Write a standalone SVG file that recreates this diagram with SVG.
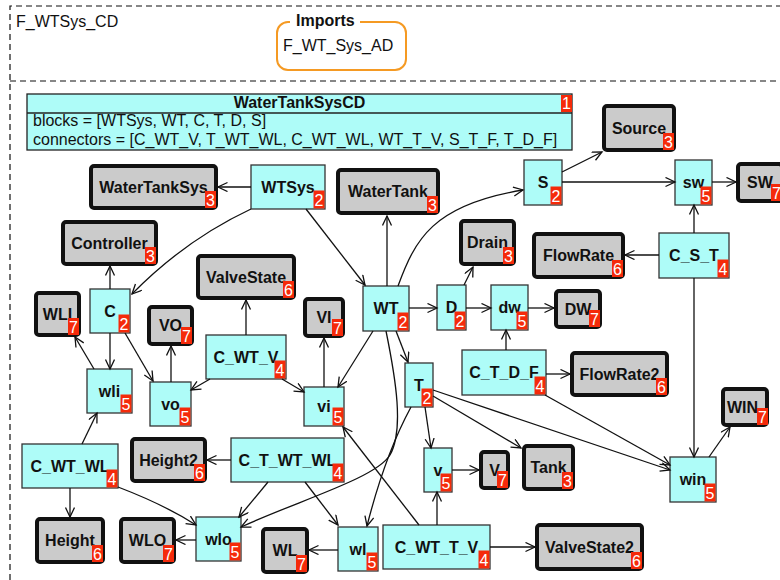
<svg xmlns="http://www.w3.org/2000/svg" width="780" height="580" viewBox="0 0 780 580">
  <defs>
    <marker id="ah" markerWidth="12" markerHeight="12" refX="10" refY="5" orient="auto" markerUnits="userSpaceOnUse">
      <path d="M0.5,0.5 L10,5 L0.5,9.5" fill="none" stroke="#111" stroke-width="1.3"/>
    </marker>
  </defs>
  <style>
    text { font-family: "Liberation Sans", Arial, sans-serif; }
    .frame { fill: none; stroke: #111; stroke-width: 1.2; stroke-dasharray: 6 4; }
    .hdr { font-size: 16px; fill: #111; }
    .imp { fill: #fff; stroke: #f59a23; stroke-width: 2; }
    .bold { font-weight: bold; }
    .cy > rect.box { fill: #aefcf8; stroke: #333; stroke-width: 1.3; }
    .gr > rect.box { fill: #cbcbcb; stroke: #111; stroke-width: 4; }
    .lbl { font-size: 16px; font-weight: bold; fill: #111; text-anchor: middle; }
    .badge { fill: #f52a0a; }
    .num { font-size: 16px; fill: #fff; text-anchor: middle; }
    .edge { fill: none; stroke: #111; stroke-width: 1.3; marker-end: url(#ah); }
    .sys { fill: #aefcf8; stroke: #222; stroke-width: 1.3; }
    .txt { font-size: 16px; fill: #111; }
  </style>

  <!-- package frame and header -->
  <path class="frame" d="M10,580 L10,6 L790,6 M10,81 L790,81"/>
  <text class="hdr" x="16" y="27">F_WTSys_CD</text>

  <g id="imports">
    <rect class="imp" x="277" y="22" width="129" height="48" rx="11"/>
    <rect x="290" y="16" width="70" height="14" fill="#fff"/>
    <text class="hdr bold" x="296" y="26">Imports</text>
    <text class="hdr" x="283" y="51">F_WT_Sys_AD</text>
  </g>

  <!-- system description -->
  <g id="WaterTankSysCD">
    <rect class="sys" x="27" y="94" width="545" height="56"/>
    <line x1="27" y1="113" x2="572" y2="113" stroke="#222" stroke-width="1.3"/>
    <text class="lbl" x="299.5" y="108">WaterTankSysCD</text>
    <rect class="badge" x="561" y="95" width="11" height="17"/>
    <text class="num" x="566.5" y="109">1</text>
    <text class="txt" x="33" y="126">blocks = [WTSys, WT, C, T, D, S]</text>
    <text class="txt" x="33" y="145">connectors = [C_WT_V, T_WT_WL, C_WT_WL, WT_T_V, S_T_F, T_D_F]</text>
  </g>

  <!-- block nodes (cyan) -->
  <g id="n-WTSys" class="cy"><rect class="box" x="251" y="165" width="74" height="44"/><text class="lbl" x="288" y="192.5">WTSys</text><rect class="badge" x="313.5" y="190.5" width="11" height="18"/><text class="num" x="319" y="206">2</text></g>
  <g id="n-C" class="cy"><rect class="box" x="90" y="289" width="40" height="44"/><text class="lbl" x="110" y="316.5">C</text><rect class="badge" x="118.5" y="314.5" width="11" height="18"/><text class="num" x="124" y="330">2</text></g>
  <g id="n-WT" class="cy"><rect class="box" x="363" y="286" width="46" height="45"/><text class="lbl" x="386" y="314">WT</text><rect class="badge" x="397.5" y="312.5" width="11" height="18"/><text class="num" x="403" y="328">2</text></g>
  <g id="n-S" class="cy"><rect class="box" x="524" y="160" width="38" height="45"/><text class="lbl" x="543" y="188">S</text><rect class="badge" x="550.5" y="186.5" width="11" height="18"/><text class="num" x="556" y="202">2</text></g>
  <g id="n-sw" class="cy"><rect class="box" x="675" y="160" width="37" height="45"/><text class="lbl" x="693.5" y="188">sw</text><rect class="badge" x="700.5" y="186.5" width="11" height="18"/><text class="num" x="706" y="202">5</text></g>
  <g id="n-C_S_T" class="cy"><rect class="box" x="659" y="233" width="70" height="45"/><text class="lbl" x="694" y="261">C_S_T</text><rect class="badge" x="717.5" y="259.5" width="11" height="18"/><text class="num" x="723" y="275">4</text></g>
  <g id="n-D" class="cy"><rect class="box" x="437" y="285" width="29" height="45"/><text class="lbl" x="451.5" y="313">D</text><rect class="badge" x="454.5" y="311.5" width="11" height="18"/><text class="num" x="460" y="327">2</text></g>
  <g id="n-dw" class="cy"><rect class="box" x="491" y="285" width="37" height="45"/><text class="lbl" x="509.5" y="313">dw</text><rect class="badge" x="516.5" y="311.5" width="11" height="18"/><text class="num" x="522" y="327">5</text></g>
  <g id="n-C_T_D_F" class="cy"><rect class="box" x="462" y="350" width="84" height="45"/><text class="lbl" x="504" y="378">C_T_D_F</text><rect class="badge" x="534.5" y="376.5" width="11" height="18"/><text class="num" x="540" y="392">4</text></g>
  <g id="n-T" class="cy"><rect class="box" x="405" y="363" width="28" height="44"/><text class="lbl" x="419" y="390.5">T</text><rect class="badge" x="421.5" y="388.5" width="11" height="18"/><text class="num" x="427" y="404">2</text></g>
  <g id="n-v" class="cy"><rect class="box" x="424" y="448" width="28" height="44"/><text class="lbl" x="438" y="475.5">v</text><rect class="badge" x="440.5" y="473.5" width="11" height="18"/><text class="num" x="446" y="489">5</text></g>
  <g id="n-win" class="cy"><rect class="box" x="670" y="457" width="46" height="45"/><text class="lbl" x="693" y="485">win</text><rect class="badge" x="704.5" y="483.5" width="11" height="18"/><text class="num" x="710" y="499">5</text></g>
  <g id="n-C_WT_T_V" class="cy"><rect class="box" x="383" y="525" width="107" height="44"/><text class="lbl" x="436.5" y="552.5">C_WT_T_V</text><rect class="badge" x="478.5" y="550.5" width="11" height="18"/><text class="num" x="484" y="566">4</text></g>
  <g id="n-C_WT_V" class="cy"><rect class="box" x="206" y="335" width="80" height="44"/><text class="lbl" x="246" y="362.5">C_WT_V</text><rect class="badge" x="274.5" y="360.5" width="11" height="18"/><text class="num" x="280" y="376">4</text></g>
  <g id="n-wli" class="cy"><rect class="box" x="87" y="369" width="45" height="44"/><text class="lbl" x="109.5" y="396.5">wli</text><rect class="badge" x="120.5" y="394.5" width="11" height="18"/><text class="num" x="126" y="410">5</text></g>
  <g id="n-vo" class="cy"><rect class="box" x="150" y="382" width="41" height="44"/><text class="lbl" x="170.5" y="409.5">vo</text><rect class="badge" x="179.5" y="407.5" width="11" height="18"/><text class="num" x="185" y="423">5</text></g>
  <g id="n-vi" class="cy"><rect class="box" x="304" y="387" width="40" height="39"/><text class="lbl" x="324" y="412">vi</text><rect class="badge" x="332.5" y="407.5" width="11" height="18"/><text class="num" x="338" y="423">5</text></g>
  <g id="n-C_WT_WL" class="cy"><rect class="box" x="22" y="444" width="96" height="44"/><text class="lbl" x="70" y="471.5">C_WT_WL</text><rect class="badge" x="106.5" y="469.5" width="11" height="18"/><text class="num" x="112" y="485">4</text></g>
  <g id="n-C_T_WT_WL" class="cy"><rect class="box" x="231" y="438" width="113" height="44"/><text class="lbl" x="287.5" y="465.5">C_T_WT_WL</text><rect class="badge" x="332.5" y="463.5" width="11" height="18"/><text class="num" x="338" y="479">4</text></g>
  <g id="n-wlo" class="cy"><rect class="box" x="196" y="517" width="45" height="44"/><text class="lbl" x="218.5" y="544.5">wlo</text><rect class="badge" x="229.5" y="542.5" width="11" height="18"/><text class="num" x="235" y="558">5</text></g>
  <g id="n-wl" class="cy"><rect class="box" x="338" y="527" width="40" height="44"/><text class="lbl" x="358" y="554.5">wl</text><rect class="badge" x="366.5" y="552.5" width="11" height="18"/><text class="num" x="372" y="568">5</text></g>

  <!-- type / value nodes (grey) -->
  <g id="n-WaterTankSys" class="gr"><rect class="box" x="91" y="166" width="125" height="42" rx="3"/><text class="lbl" x="153.5" y="192.5">WaterTankSys</text><rect class="badge" x="205" y="191" width="11" height="17"/><text class="num" x="210.5" y="205.5">3</text></g>
  <g id="n-Controller" class="gr"><rect class="box" x="63" y="222" width="93" height="42" rx="3"/><text class="lbl" x="109.5" y="248.5">Controller</text><rect class="badge" x="145" y="247" width="11" height="17"/><text class="num" x="150.5" y="261.5">3</text></g>
  <g id="n-ValveState" class="gr"><rect class="box" x="198" y="256" width="96" height="42" rx="3"/><text class="lbl" x="246" y="282.5">ValveState</text><rect class="badge" x="283" y="281" width="11" height="17"/><text class="num" x="288.5" y="295.5">6</text></g>
  <g id="n-WLI" class="gr"><rect class="box" x="36" y="293" width="43" height="42" rx="3"/><text class="lbl" x="57.5" y="319.5">WLI</text><rect class="badge" x="68" y="318" width="11" height="17"/><text class="num" x="73.5" y="332.5">7</text></g>
  <g id="n-VO" class="gr"><rect class="box" x="149" y="307" width="43" height="37" rx="3"/><text class="lbl" x="170.5" y="331">VO</text><rect class="badge" x="181" y="327" width="11" height="17"/><text class="num" x="186.5" y="341.5">7</text></g>
  <g id="n-VI" class="gr"><rect class="box" x="305" y="299" width="38" height="37" rx="3"/><text class="lbl" x="324" y="323">VI</text><rect class="badge" x="332" y="319" width="11" height="17"/><text class="num" x="337.5" y="333.5">7</text></g>
  <g id="n-WaterTank" class="gr"><rect class="box" x="338" y="170" width="100" height="43" rx="3"/><text class="lbl" x="388" y="197">WaterTank</text><rect class="badge" x="427" y="196" width="11" height="17"/><text class="num" x="432.5" y="210.5">3</text></g>
  <g id="n-Drain" class="gr"><rect class="box" x="461" y="221" width="53" height="43" rx="3"/><text class="lbl" x="487.5" y="248">Drain</text><rect class="badge" x="503" y="247" width="11" height="17"/><text class="num" x="508.5" y="261.5">3</text></g>
  <g id="n-Source" class="gr"><rect class="box" x="604" y="106" width="70" height="44" rx="3"/><text class="lbl" x="639" y="133.5">Source</text><rect class="badge" x="663" y="133" width="11" height="17"/><text class="num" x="668.5" y="147.5">3</text></g>
  <g id="n-SW" class="gr"><rect class="box" x="738" y="164" width="44" height="37" rx="3"/><text class="lbl" x="760" y="188">SW</text><rect class="badge" x="771" y="184" width="11" height="17"/><text class="num" x="776.5" y="198.5">7</text></g>
  <g id="n-FlowRate" class="gr"><rect class="box" x="534" y="234" width="89" height="43" rx="3"/><text class="lbl" x="578.5" y="261">FlowRate</text><rect class="badge" x="612" y="260" width="11" height="17"/><text class="num" x="617.5" y="274.5">6</text></g>
  <g id="n-DW" class="gr"><rect class="box" x="556" y="291" width="44" height="36" rx="3"/><text class="lbl" x="578" y="314.5">DW</text><rect class="badge" x="589" y="310" width="11" height="17"/><text class="num" x="594.5" y="324.5">7</text></g>
  <g id="n-FlowRate2" class="gr"><rect class="box" x="572" y="353" width="95" height="42" rx="3"/><text class="lbl" x="619.5" y="379.5">FlowRate2</text><rect class="badge" x="656" y="378" width="11" height="17"/><text class="num" x="661.5" y="392.5">6</text></g>
  <g id="n-WIN" class="gr"><rect class="box" x="723" y="389" width="44" height="36" rx="3"/><text class="lbl" x="742.5" y="412.5">WIN</text><rect class="badge" x="757" y="408" width="11" height="17"/><text class="num" x="762.5" y="422.5">7</text></g>
  <g id="n-V" class="gr"><rect class="box" x="481" y="452" width="27" height="36" rx="3"/><text class="lbl" x="494.5" y="475.5">V</text><rect class="badge" x="497" y="471" width="11" height="17"/><text class="num" x="502.5" y="485.5">7</text></g>
  <g id="n-Tank" class="gr"><rect class="box" x="524" y="446" width="49" height="43" rx="3"/><text class="lbl" x="548.5" y="473">Tank</text><rect class="badge" x="562" y="472" width="11" height="17"/><text class="num" x="567.5" y="486.5">3</text></g>
  <g id="n-ValveState2" class="gr"><rect class="box" x="537" y="525" width="105" height="44" rx="3"/><text class="lbl" x="589.5" y="552.5">ValveState2</text><rect class="badge" x="631" y="552" width="11" height="17"/><text class="num" x="636.5" y="566.5">6</text></g>
  <g id="n-Height2" class="gr"><rect class="box" x="132" y="439" width="73" height="42" rx="3"/><text class="lbl" x="168.5" y="465.5">Height2</text><rect class="badge" x="194" y="464" width="11" height="17"/><text class="num" x="199.5" y="478.5">6</text></g>
  <g id="n-Height" class="gr"><rect class="box" x="37" y="519" width="66" height="43" rx="3"/><text class="lbl" x="70" y="546">Height</text><rect class="badge" x="92" y="545" width="11" height="17"/><text class="num" x="97.5" y="559.5">6</text></g>
  <g id="n-WLO" class="gr"><rect class="box" x="121" y="519" width="53" height="43" rx="3"/><text class="lbl" x="147.5" y="546">WLO</text><rect class="badge" x="163" y="545" width="11" height="17"/><text class="num" x="168.5" y="559.5">7</text></g>
  <g id="n-WL" class="gr"><rect class="box" x="263" y="529" width="44" height="43" rx="3"/><text class="lbl" x="285" y="556">WL</text><rect class="badge" x="296" y="555" width="11" height="17"/><text class="num" x="301.5" y="569.5">7</text></g>

  <!-- connectors -->
  <g id="connectors">
    <path class="edge" d="M251,187 L218,187"/>
    <path class="edge" d="M251,209 Q185,240 132,294"/>
    <path class="edge" d="M306,209 L365,285"/>
    <path class="edge" d="M387,286 L387,216"/>
    <path class="edge" d="M398,286 C415,240 432,205 523,190"/>
    <path class="edge" d="M562,172 L602,152"/>
    <path class="edge" d="M562,182 L675,182"/>
    <path class="edge" d="M712,182 L736,182"/>
    <path class="edge" d="M694,233 L694,205"/>
    <path class="edge" d="M659,255 L625,255"/>
    <path class="edge" d="M694,278 L694,457"/>
    <path class="edge" d="M709,457 L730,427"/>
    <path class="edge" d="M506,350 L506,330"/>
    <path class="edge" d="M546,374 L570,374"/>
    <path class="edge" d="M545,395 L670,465"/>
    <path class="edge" d="M433,390 L670,470"/>
    <path class="edge" d="M433,396 L521,448"/>
    <path class="edge" d="M425,407 L431,448"/>
    <path class="edge" d="M452,470 L479,470"/>
    <path class="edge" d="M437,525 L437,492"/>
    <path class="edge" d="M490,547 L535,547"/>
    <path class="edge" d="M419,525 L343,427"/>
    <path class="edge" d="M411,407 Q385,455 367,526"/>
    <path class="edge" d="M386,331 C396,380 404,430 390,455 C376,478 300,500 241,527"/>
    <path class="edge" d="M373,331 L338,387"/>
    <path class="edge" d="M396,331 L408,362"/>
    <path class="edge" d="M409,308 L437,308"/>
    <path class="edge" d="M464,285 L473,267"/>
    <path class="edge" d="M466,308 L491,308"/>
    <path class="edge" d="M528,308 L554,308"/>
    <path class="edge" d="M110,289 L110,266"/>
    <path class="edge" d="M110,333 L110,369"/>
    <path class="edge" d="M125,333 L153,381"/>
    <path class="edge" d="M94,369 L75,337"/>
    <path class="edge" d="M171,382 L171,346"/>
    <path class="edge" d="M246,335 L246,300"/>
    <path class="edge" d="M210,379 L191,390"/>
    <path class="edge" d="M282,379 L304,392"/>
    <path class="edge" d="M324,387 L324,338"/>
    <path class="edge" d="M82,444 L97,413"/>
    <path class="edge" d="M70,488 L70,517"/>
    <path class="edge" d="M118,487 Q165,505 196,525"/>
    <path class="edge" d="M231,460 L207,460"/>
    <path class="edge" d="M268,482 L239,517"/>
    <path class="edge" d="M305,482 L338,525"/>
    <path class="edge" d="M196,540 L176,540"/>
    <path class="edge" d="M338,550 L309,550"/>
  </g>
</svg>
